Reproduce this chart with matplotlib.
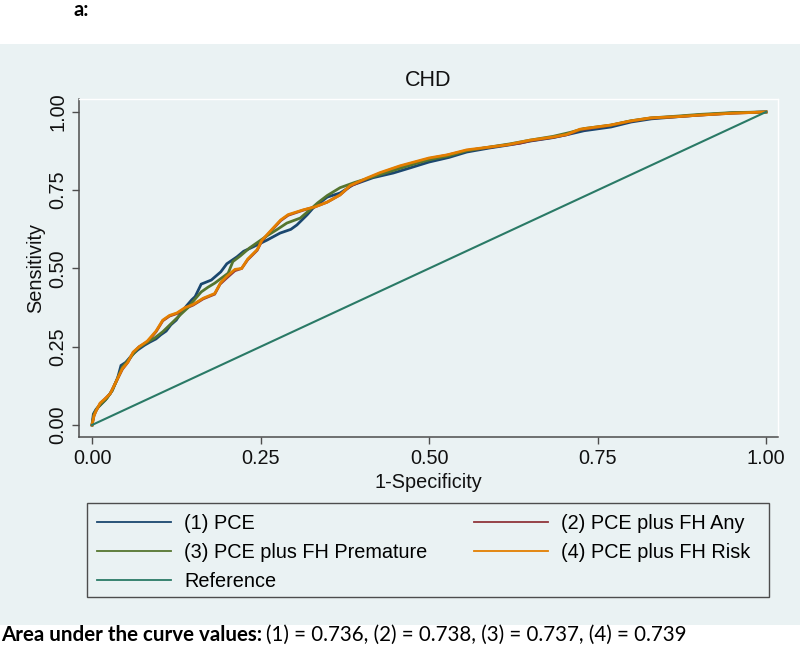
import matplotlib
matplotlib.use("Agg")
import matplotlib.pyplot as plt
from matplotlib.lines import Line2D
from matplotlib.patches import Rectangle

BG = "#eaf2f3"
AXIS_GRAY = "#4d4d4d"
TXT = "#111111"

# ROC curves: (1-specificity, sensitivity)
pce_x = [0, 0.002, 0.006, 0.013, 0.02, 0.03, 0.038, 0.043, 0.05, 0.06, 0.068, 0.078,
         0.086, 0.095, 0.102, 0.11, 0.117, 0.125, 0.132, 0.14, 0.148, 0.153, 0.162,
         0.177, 0.191, 0.2, 0.215, 0.225, 0.239, 0.26, 0.279, 0.295, 0.304, 0.319,
         0.328, 0.349, 0.368, 0.387, 0.417, 0.447, 0.47, 0.5, 0.53, 0.556, 0.59,
         0.62, 0.65, 0.684, 0.71, 0.73, 0.77, 0.8, 0.83, 0.87, 0.9, 0.95, 1.0]
pce_y = [0, 0.035, 0.05, 0.065, 0.08, 0.11, 0.15, 0.19, 0.2, 0.225, 0.24, 0.255,
         0.265, 0.275, 0.288, 0.3, 0.32, 0.335, 0.358, 0.38, 0.4, 0.41, 0.45,
         0.463, 0.489, 0.515, 0.537, 0.555, 0.569, 0.591, 0.613, 0.625, 0.639, 0.671,
         0.693, 0.728, 0.741, 0.767, 0.79, 0.805, 0.82, 0.84, 0.855, 0.872, 0.885,
         0.895, 0.907, 0.918, 0.93, 0.94, 0.952, 0.968, 0.978, 0.985, 0.99, 0.997, 1.0]

any_x = [0, 0.003, 0.006, 0.012, 0.02, 0.027, 0.035, 0.045, 0.053, 0.061, 0.07, 0.082,
         0.095, 0.105, 0.115, 0.126, 0.138, 0.15, 0.165, 0.182, 0.19, 0.2, 0.212,
         0.222, 0.231, 0.245, 0.252, 0.267, 0.28, 0.291, 0.313, 0.331, 0.349, 0.368,
         0.383, 0.408, 0.427, 0.457, 0.5, 0.527, 0.556, 0.59, 0.616, 0.635, 0.65,
         0.684, 0.704, 0.724, 0.769, 0.798, 0.828, 0.868, 0.902, 0.95, 1.0]
any_y = [0, 0.03, 0.045, 0.068, 0.085, 0.1, 0.135, 0.178, 0.2, 0.23, 0.25, 0.265,
         0.298, 0.333, 0.348, 0.356, 0.372, 0.383, 0.403, 0.418, 0.45, 0.47, 0.493,
         0.5, 0.528, 0.558, 0.588, 0.623, 0.653, 0.67, 0.686, 0.697, 0.712, 0.735,
         0.763, 0.787, 0.804, 0.826, 0.851, 0.862, 0.877, 0.887, 0.895, 0.9, 0.908,
         0.919, 0.927, 0.943, 0.957, 0.97, 0.98, 0.985, 0.99, 0.996, 1.0]

prem_x = [0, 0.003, 0.008, 0.015, 0.022, 0.03, 0.04, 0.045, 0.055, 0.068, 0.08, 0.093,
          0.105, 0.118, 0.13, 0.142, 0.152, 0.162, 0.172, 0.182, 0.202, 0.209, 0.22,
          0.234, 0.25, 0.26, 0.275, 0.289, 0.309, 0.323, 0.335, 0.349, 0.368, 0.39,
          0.42, 0.45, 0.48, 0.5, 0.53, 0.556, 0.59, 0.62, 0.65, 0.684, 0.71, 0.73,
          0.77, 0.8, 0.83, 0.87, 0.9, 0.95, 1.0]
prem_y = [0, 0.035, 0.055, 0.07, 0.085, 0.11, 0.16, 0.185, 0.21, 0.245, 0.262, 0.278,
          0.298, 0.325, 0.35, 0.374, 0.4, 0.425, 0.44, 0.453, 0.485, 0.522, 0.54,
          0.566, 0.59, 0.605, 0.625, 0.645, 0.661, 0.687, 0.71, 0.733, 0.758, 0.775,
          0.795, 0.815, 0.835, 0.847, 0.86, 0.876, 0.888, 0.898, 0.91, 0.922, 0.935,
          0.947, 0.958, 0.972, 0.981, 0.987, 0.992, 0.998, 1.0]

risk_x = [0, 0.003, 0.006, 0.012, 0.02, 0.027, 0.035, 0.045, 0.053, 0.061, 0.07, 0.082,
          0.095, 0.105, 0.115, 0.126, 0.138, 0.15, 0.165, 0.182, 0.191, 0.2, 0.212,
          0.222, 0.231, 0.245, 0.252, 0.267, 0.28, 0.291, 0.313, 0.331, 0.349, 0.368,
          0.383, 0.408, 0.427, 0.457, 0.5, 0.527, 0.556, 0.59, 0.616, 0.65, 0.684,
          0.704, 0.724, 0.769, 0.798, 0.828, 0.868, 0.902, 0.95, 1.0]
risk_y = [0, 0.03, 0.045, 0.07, 0.085, 0.1, 0.135, 0.18, 0.2, 0.233, 0.25, 0.268,
          0.3, 0.335, 0.35, 0.358, 0.375, 0.385, 0.405, 0.42, 0.455, 0.475, 0.497,
          0.5, 0.53, 0.56, 0.59, 0.625, 0.655, 0.672, 0.687, 0.697, 0.712, 0.735,
          0.765, 0.789, 0.806, 0.828, 0.853, 0.863, 0.879, 0.888, 0.895, 0.91, 0.92,
          0.928, 0.945, 0.958, 0.971, 0.981, 0.985, 0.99, 0.996, 1.0]

ref_x = [0, 1]
ref_y = [0, 1]

labels = ["(1) PCE", "(2) PCE plus FH Any", "(3) PCE plus FH Premature",
          "(4) PCE plus FH Risk", "Reference"]
colors = ["#1a476f", "#90353b", "#55752f", "#e37e00", "#2a7a66"]
ticks = [0, 0.25, 0.5, 0.75, 1.0]
tick_labels = ["0.00", "0.25", "0.50", "0.75", "1.00"]
auc_text = "(1) = 0.736, (2) = 0.738, (3) = 0.737, (4) = 0.739"

FS = 14.3

plt.rcParams["font.family"] = ["Liberation Sans", "DejaVu Sans"]

fig = plt.figure(figsize=(8, 6.49), dpi=100)
fig.patch.set_facecolor("white")
# graph region and legend frame
fig.patches.append(Rectangle((0, 0.037), 1, 0.895, transform=fig.transFigure,
                             facecolor=BG, edgecolor="none", zorder=-5))
fig.patches.append(Rectangle((87 / 800, 1 - 597 / 649), 682 / 800, 94 / 649,
                             transform=fig.transFigure, facecolor=BG,
                             edgecolor=AXIS_GRAY, lw=1.0, zorder=-4))

ax = fig.add_axes([0.09875, 0.3267, 0.87375, 0.5208])
ax.set_facecolor(BG)

series = [(pce_x, pce_y), (any_x, any_y), (prem_x, prem_y), (risk_x, risk_y)]
for (xs, ys), c in zip(series, colors[:4]):
    ax.plot(xs, ys, color=c, lw=2.0, solid_joinstyle="miter")
ax.plot(ref_x, ref_y, color=colors[4], lw=1.5)

ax.set_xlim(-0.0193, 1.0178)
ax.set_ylim(-0.0383, 1.0415)
ax.set_xticks(ticks, tick_labels)
ax.set_yticks(ticks, tick_labels)
ax.tick_params(axis="both", direction="out", length=5, width=1, color=AXIS_GRAY,
               labelsize=FS, pad=3.5, labelcolor=TXT)
ax.tick_params(axis="y", labelrotation=90)
for lab in ax.get_yticklabels():
    lab.set_va("center")

for side in ("left", "bottom"):
    ax.spines[side].set_color(AXIS_GRAY)
    ax.spines[side].set_linewidth(1.1)
for side in ("top", "right"):
    ax.spines[side].set_color("white")
    ax.spines[side].set_linewidth(1.0)

ax.set_title("CHD", fontsize=15.5, pad=9.5, color=TXT)
ax.set_xlabel("1-Specificity", fontsize=FS, labelpad=3.5, color=TXT)
ax.set_ylabel("Sensitivity", fontsize=FS, labelpad=2, color=TXT)

handles = [Line2D([], [], color=c, lw=1.3) for c in colors]
order = [0, 2, 4, 1, 3]
leg = fig.legend([handles[i] for i in order], [labels[i] for i in order],
                 ncol=2, loc="upper left", bbox_to_anchor=(97 / 800, 1 - 514 / 649),
                 frameon=False, fontsize=FS, handlelength=3.75, handletextpad=0.65,
                 labelspacing=0.5, columnspacing=2.33, borderaxespad=0, borderpad=0)

fig.text(73 / 800, 1 - 16 / 649, "a:", fontsize=14.5, fontweight="bold",
         family="Lato", va="baseline", ha="left")

t1 = fig.text(0.001, 1 - 641 / 649, "Area under the curve values:", fontsize=14.8,
              fontweight="bold", family="Lato", va="baseline", ha="left")
fig.canvas.draw()
bb = t1.get_window_extent()
fig.text(bb.x1 / fig.bbox.width + 0.005, 1 - 641 / 649, auc_text, fontsize=14.8,
         family="Lato", va="baseline", ha="left")

fig.savefig("out.png", dpi=100)
